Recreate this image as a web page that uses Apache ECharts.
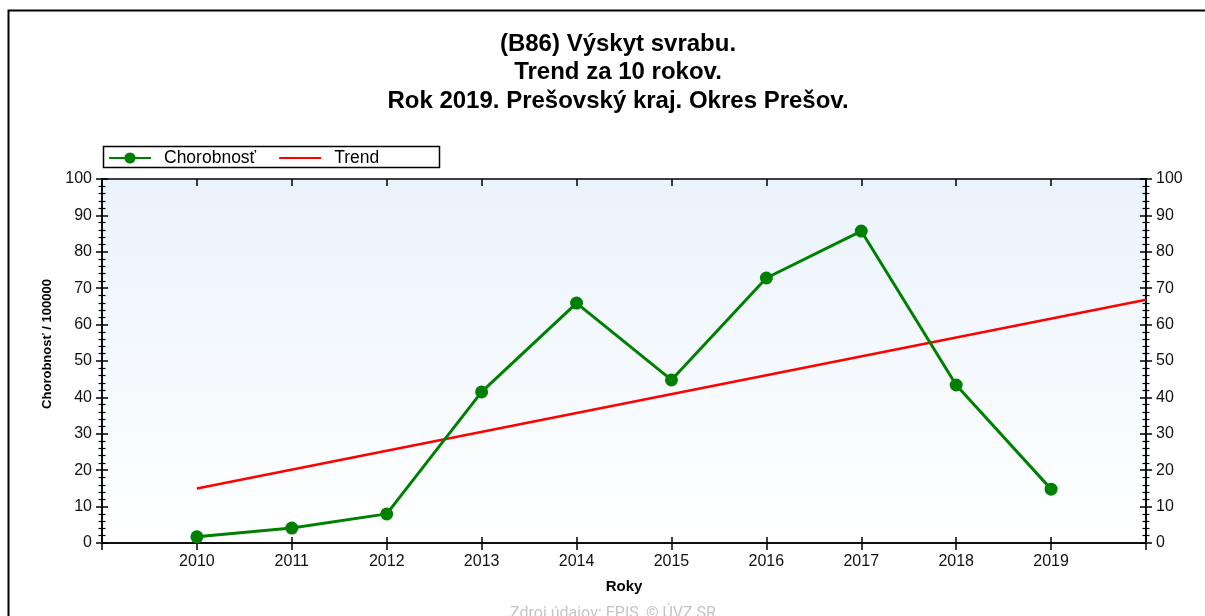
<!DOCTYPE html>
<html>
<head>
<meta charset="utf-8">
<script src="https://cdn.jsdelivr.net/npm/echarts@6/dist/echarts.min.js"></script>
<style>
  html, body { margin: 0; padding: 0; background: #fff; }
  #chart { width: 1205px; height: 616px; }
</style>
</head>
<body>
<div id="chart"></div>
<script>
// Incidence of scabies per 100 000 inhabitants, district Prešov
const years = [2010, 2011, 2012, 2013, 2014, 2015, 2016, 2017, 2018, 2019];
const incidence = [1.7, 4.1, 8.0, 41.5, 65.9, 44.8, 72.8, 85.7, 43.4, 14.8];
// Linear trend line endpoints (year, value)
const trendYears = [2010, 2020];
const trendValues = [15.0, 66.8];
const yTicks = { min: 0, max: 100, step: 10 };
const xRange = { min: 2009, max: 2020 };

const titleLines = [
  '(B86) Výskyt svrabu.',
  'Trend za 10 rokov.',
  'Rok 2019. Prešovský kraj. Okres Prešov.'
];

const FONT = '"Liberation Sans", Arial, sans-serif';

const chart = echarts.init(document.getElementById('chart'), null, { renderer: 'canvas' });

function yAxisDef(position, inside, showLabel) {
  return {
    type: 'value',
    position: position,
    min: yTicks.min,
    max: yTicks.max,
    interval: yTicks.step,
    axisLine: { show: true, onZero: false, lineStyle: { color: '#000', width: 1.5 } },
    axisTick: { show: true, inside: inside, length: 6, lineStyle: { color: '#000', width: 1.5 } },
    minorTick: { show: true, splitNumber: 5, length: 3.5, lineStyle: { color: '#000', width: 1.2 } },
    splitLine: { show: false },
    axisLabel: {
      show: showLabel, color: '#111', fontFamily: FONT, fontSize: 16, margin: 10
    }
  };
}

function xAxisDef(position, inside, showLabel, len) {
  return {
    type: 'value',
    position: position,
    min: xRange.min,
    max: xRange.max,
    interval: 1,
    axisLine: { show: true, onZero: false, lineStyle: { color: '#000', width: 1.5 } },
    axisTick: { show: true, inside: inside, length: len, lineStyle: { color: '#000', width: 1.5 } },
    splitLine: { show: false },
    axisLabel: {
      show: showLabel, color: '#111', fontFamily: FONT, fontSize: 16, margin: 11,
      formatter: function (v) { return years.indexOf(v) >= 0 ? String(v) : ''; }
    }
  };
}

const xMain = xAxisDef('bottom', false, true, 7);
xMain.name = 'Roky';
xMain.nameLocation = 'middle';
xMain.nameGap = 36;
xMain.nameTextStyle = { color: '#000', fontFamily: FONT, fontSize: 15, fontWeight: 'bold' };

const option = {
  animation: false,
  backgroundColor: '#fff',
  grid: {
    left: 102, right: 59, top: 179, bottom: 73,
    show: true,
    borderWidth: 0,
    backgroundColor: new echarts.graphic.LinearGradient(0, 0, 0, 1, [
      { offset: 0, color: '#eaf3fc' },
      { offset: 1, color: '#ffffff' }
    ])
  },
  title: titleLines.map(function (t, i) {
    return {
      text: t, left: 613, top: 27 + i * 28.5, textAlign: 'center',
      textStyle: { color: '#000', fontFamily: FONT, fontSize: 24, fontWeight: 'bold' }
    };
  }),
  legend: {
    left: 104, top: 147, padding: [2, 4, 2, 4],
    itemWidth: 42, itemHeight: 14, itemGap: 22,
    textStyle: { color: '#000', fontFamily: FONT, fontSize: 17.5, padding: [0, 0, 0, 8] },
    data: [
      { name: 'Chorobnosť' },
      { name: 'Trend', itemStyle: { opacity: 0 } }
    ]
  },
  xAxis: [
    xMain,
    xAxisDef('bottom', true, false, 6),
    xAxisDef('top', true, false, 7)
  ],
  yAxis: [
    yAxisDef('left', false, true),
    yAxisDef('left', true, false),
    yAxisDef('right', false, true),
    yAxisDef('right', true, false)
  ],
  graphic: [
    {
      type: 'rect', silent: true,
      shape: { x: 8.5, y: 10.5, width: 1220, height: 620 },
      style: { fill: 'none', stroke: '#000', lineWidth: 2 }
    },
    {
      type: 'rect', silent: true,
      shape: { x: 103.5, y: 146.5, width: 336, height: 21 },
      style: { fill: 'none', stroke: '#000', lineWidth: 1.5 }
    },
    {
      type: 'text', silent: true,
      x: 47, y: 344, rotation: Math.PI / 2,
      style: {
        text: 'Chorobnosť / 100000', fill: '#000',
        font: 'bold 13px ' + FONT, align: 'center', verticalAlign: 'middle'
      }
    },
    {
      type: 'text', silent: true,
      x: 613, y: 606,
      style: {
        text: 'Zdroj údajov: EPIS, © ÚVZ SR', fill: '#c4c4c4',
        font: '16px Roboto, ' + FONT, align: 'center', verticalAlign: 'top'
      }
    }
  ],
  series: [
    {
      name: 'Chorobnosť',
      type: 'line',
      xAxisIndex: 0, yAxisIndex: 0,
      data: years.map(function (y, i) { return [y, incidence[i]]; }),
      symbol: 'circle', symbolSize: 13,
      lineStyle: { color: '#008000', width: 3 },
      itemStyle: { color: '#008000' },
      z: 3
    },
    {
      name: 'Trend',
      type: 'line',
      xAxisIndex: 0, yAxisIndex: 0,
      data: trendYears.map(function (y, i) { return [y, trendValues[i]]; }),
      symbol: 'none',
      lineStyle: { color: '#ff0000', width: 2.5 },
      itemStyle: { color: '#ff0000' },
      z: 2
    }
  ]
};

chart.setOption(option);
</script>
</body>
</html>
